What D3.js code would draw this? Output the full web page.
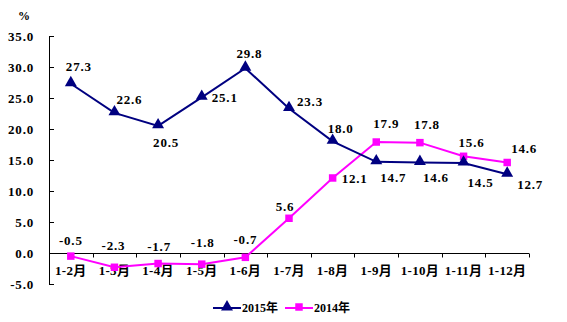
<!DOCTYPE html>
<html>
<head>
<meta charset="utf-8">
<script src="https://cdn.jsdelivr.net/npm/d3@7"></script>
<style>
  html, body { margin: 0; padding: 0; background: #fff; }
  svg text { font-family: "Liberation Serif", "Noto Sans CJK SC", serif; font-weight: bold; fill: #000; }
</style>
</head>
<body>
<svg id="chart" width="567" height="322"></svg>
<script>
// Cumulative monthly growth, %
const categories = ["1-2月", "1-3月", "1-4月", "1-5月", "1-6月", "1-7月", "1-8月", "1-9月", "1-10月", "1-11月", "1-12月"];
const series2015 = [27.3, 22.6, 20.5, 25.1, 29.8, 23.3, 18.0, 14.7, 14.6, 14.5, 12.7];
const series2014 = [-0.5, -2.3, -1.7, -1.8, -0.7, 5.6, 12.1, 17.9, 17.8, 15.6, 14.6];
const yTicks = [35, 30, 25, 20, 15, 10, 5, 0, -5];
const seriesNames = ["2015年", "2014年"];

// label placement relative to each point (dx to label centre, dy to baseline)
const offsets2015 = [[8, -13], [15, -9], [8, 21], [23, 5], [4, -10], [21, -3], [8, -8], [17, 20], [16, 20], [17, 24], [23, 15]];
const offsets2014 = [[0, -11], [-1, -17], [1, -13], [1, -17], [0, -13], [-4, -7], [22, 5], [10, -14], [7, -14], [8, -9], [17, -9]];

const svg = d3.select("#chart");
const plotLeft = 49, plotRight = 529, plotTop = 36, plotBottom = 284;

const x = d3.scaleBand().domain(categories).range([plotLeft, plotRight]);
const y = d3.scaleLinear().domain([-5, 35]).range([plotBottom, plotTop]);

const navy = "#000080", magenta = "#ff00ff";
const labelFont = 13, spacing = 0.8;

// y axis
svg.append("line").attr("x1", plotLeft + 0.5).attr("x2", plotLeft + 0.5).attr("y1", plotTop).attr("y2", plotBottom)
  .attr("stroke", "#000").attr("stroke-width", 1);
svg.selectAll(".ytick").data(yTicks).enter().append("line")
  .attr("x1", plotLeft).attr("x2", plotLeft + 5)
  .attr("y1", d => Math.round(y(d)) + 0.5).attr("y2", d => Math.round(y(d)) + 0.5)
  .attr("stroke", "#000");
svg.selectAll(".ylabel").data(yTicks).enter().append("text")
  .attr("x", 34).attr("y", d => y(d) + 4.5)
  .attr("text-anchor", "end").attr("font-size", labelFont).attr("letter-spacing", spacing)
  .text(d => d3.format(".1f")(d).replace("−", "-"));
svg.append("text").attr("x", 24).attr("y", 20).attr("text-anchor", "middle").attr("font-size", 12).text("%");

// x axis at zero
const y0 = Math.round(y(0)) + 0.5;
svg.append("line").attr("x1", plotLeft).attr("x2", plotRight).attr("y1", y0).attr("y2", y0)
  .attr("stroke", "#000");
const bounds = categories.map(c => x(c)).concat([plotRight]);
svg.selectAll(".xtick").data(bounds).enter().append("line")
  .attr("x1", d => Math.round(d) + 0.5).attr("x2", d => Math.round(d) + 0.5)
  .attr("y1", y0).attr("y2", y0 + 4).attr("stroke", "#000");
svg.selectAll(".xlabel").data(categories).enter().append("text")
  .attr("x", d => x(d) + x.bandwidth() / 2).attr("y", 275)
  .attr("text-anchor", "middle").attr("font-size", 13).attr("letter-spacing", 0.3)
  .text(d => d);

const cx = (d, i) => x(categories[i]) + x.bandwidth() / 2;
const line = d3.line().x(cx).y(d => y(d));

const tri = d3.symbol().type(d3.symbolTriangle).size(62);
const sq = d3.symbol().type(d3.symbolSquare).size(56);

// 2014 series
svg.append("path").datum(series2014).attr("d", line)
  .attr("fill", "none").attr("stroke", magenta).attr("stroke-width", 2);
svg.selectAll(".m14").data(series2014).enter().append("path")
  .attr("d", sq).attr("fill", magenta)
  .attr("transform", (d, i) => `translate(${cx(d, i)},${y(d)})`);

// 2015 series
svg.append("path").datum(series2015).attr("d", line)
  .attr("fill", "none").attr("stroke", navy).attr("stroke-width", 2);
svg.selectAll(".m15").data(series2015).enter().append("path")
  .attr("d", tri).attr("fill", navy)
  .attr("transform", (d, i) => `translate(${cx(d, i)},${y(d) - 1})`);

// value labels
const fmt = d => d3.format(".1f")(d).replace("−", "-");
svg.selectAll(".l15").data(series2015).enter().append("text")
  .attr("x", (d, i) => cx(d, i) + offsets2015[i][0])
  .attr("y", (d, i) => y(d) + offsets2015[i][1])
  .attr("text-anchor", "middle").attr("font-size", labelFont).attr("letter-spacing", spacing).text(fmt);
svg.selectAll(".l14").data(series2014).enter().append("text")
  .attr("x", (d, i) => cx(d, i) + offsets2014[i][0])
  .attr("y", (d, i) => y(d) + offsets2014[i][1])
  .attr("text-anchor", "middle").attr("font-size", labelFont).attr("letter-spacing", spacing).text(fmt);

// legend
const legend = [
  { name: seriesNames[0], color: navy, sym: tri, x: 213 },
  { name: seriesNames[1], color: magenta, sym: sq, x: 285 }
];
const ly = 308;
const lg = svg.selectAll(".legend").data(legend).enter().append("g");
lg.append("line").attr("x1", d => d.x).attr("x2", d => d.x + 28)
  .attr("y1", ly).attr("y2", ly).attr("stroke", d => d.color).attr("stroke-width", 2);
lg.append("path").attr("d", d => d.sym()).attr("fill", d => d.color)
  .attr("transform", d => `translate(${d.x + 14},${ly - 1})`);
lg.append("text").attr("x", d => d.x + 29).attr("y", ly + 4)
  .attr("font-size", 12).text(d => d.name);
</script>
</body>
</html>
